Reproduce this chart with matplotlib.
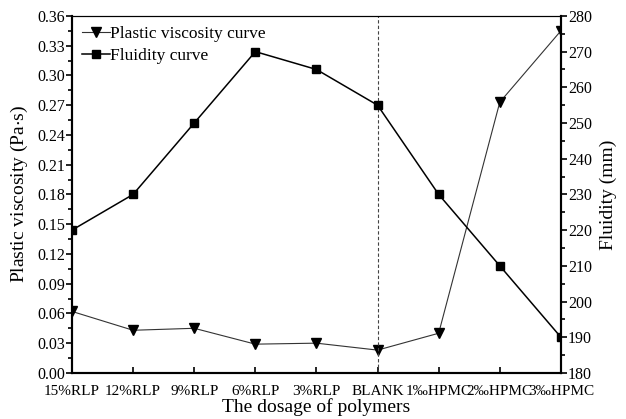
import matplotlib.pyplot as plt
from matplotlib.ticker import MultipleLocator, FormatStrFormatter

plt.rcParams['font.family'] = ['Liberation Serif', 'DejaVu Serif']
plt.rcParams['mathtext.fontset'] = 'stix'

dosages = ["15%RLP", "12%RLP", "9%RLP", "6%RLP", "3%RLP", "BLANK",
           "1‰HPMC", "2‰HPMC", "3‰HPMC"]
viscosity = [0.062, 0.043, 0.045, 0.029, 0.030, 0.023, 0.040, 0.273, 0.345]
fluidity = [220, 230, 250, 270, 265, 255, 230, 210, 190]

x = list(range(len(dosages)))

fig, ax = plt.subplots(figsize=(6.26, 4.19), dpi=100)
fig.subplots_adjust(left=0.115, right=0.896, bottom=0.110, top=0.962)
ax2 = ax.twinx()

l1, = ax.plot(x, viscosity, color='#333333', lw=0.8, marker='v', ms=7.5,
              mfc='black', mec='black', label='Plastic viscosity curve')
l2, = ax2.plot(x, fluidity, color='black', lw=1.1, marker='s', ms=6,
               mfc='black', mec='black', label='Fluidity curve')
ax.axvline(5, color='#444444', lw=0.8, ls=(0, (3, 2)))

ax.set_xlim(0, 8)
ax.set_ylim(0, 0.36)
ax2.set_ylim(180, 280)
ax.set_xticks(x)
ax.set_xticklabels(dosages)
ax.yaxis.set_major_locator(MultipleLocator(0.03))
ax.yaxis.set_minor_locator(MultipleLocator(0.015))
ax.yaxis.set_major_formatter(FormatStrFormatter('%.2f'))
ax2.yaxis.set_major_locator(MultipleLocator(10))
ax2.yaxis.set_minor_locator(MultipleLocator(5))

for a in (ax, ax2):
    a.tick_params(axis='y', which='major', direction='out', length=4,
                  width=1.2, labelsize=11.5, pad=1)
    a.tick_params(axis='y', which='minor', direction='out', length=3, width=1.2)
    for s in a.spines.values():
        s.set_linewidth(1.5)
    a.spines['top'].set_linewidth(0.8)
ax.tick_params(axis='x', which='major', direction='in', length=4, width=1.2,
               labelsize=11, pad=9)

ax.set_xlabel('The dosage of polymers', fontsize=14, labelpad=0)
ax.set_ylabel('Plastic viscosity (Pa$\\cdot$s)', fontsize=14, labelpad=5)
ax2.set_ylabel('Fluidity (mm)', fontsize=14, labelpad=6)

ax.legend([l1, l2], ['Plastic viscosity curve', 'Fluidity curve'],
          loc='upper left', frameon=False, fontsize=12.5, handlelength=1.6,
          handletextpad=0.0, borderaxespad=0.2, labelspacing=0.3)

plt.savefig('out.png', dpi=100)
